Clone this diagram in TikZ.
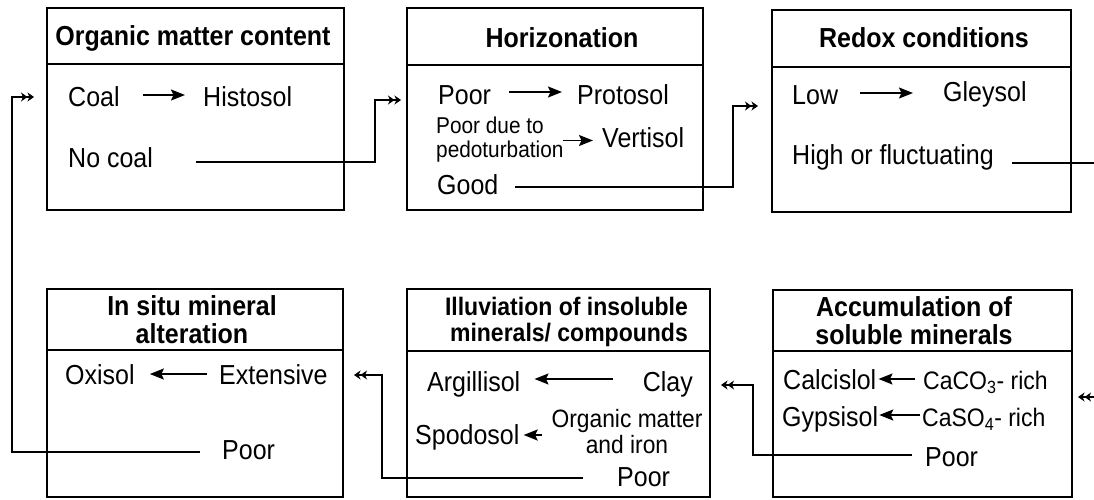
\documentclass[tikz,border=0pt]{standalone}
\usepackage{fontspec}
\usepackage{graphicx}
\setmainfont{Liberation Sans}
\usetikzlibrary{arrows.meta}
\newsavebox\tallbox
\begin{document}
\begin{tikzpicture}[x=1pt,y=-1pt,
  box/.style={draw, line width=2pt, inner sep=0pt},
  divider/.style={line width=1.8pt},
  tall/.style={execute at begin node={\begin{lrbox}{\tallbox}},
               execute at end node={\end{lrbox}\scalebox{1}[1.1]{\usebox{\tallbox}}}},
  txt/.style={tall, inner sep=0pt, anchor=west, font=\fontsize{25}{29}\selectfont, text height=19.7pt, text depth=0pt},
  multi/.style={tall, inner sep=0pt},
  hd/.style={tall, inner sep=0pt, font=\fontsize{25}{28}\selectfont\bfseries, text height=19.7pt, text depth=0pt},
  arr/.style={line width=1.8pt, -{Stealth[length=14pt,width=11pt,inset=2.5pt]}},
  conn/.style={line width=1.8pt, -{Stealth[length=6.5pt,width=9pt,inset=2pt]Stealth[length=6.5pt,width=9pt,inset=2pt]}},
  plain/.style={line width=1.8pt}]
\useasboundingbox[fill=white] (0,0) rectangle (1094,499);

% boxes
\node[box, minimum width=297pt, minimum height=202pt] (b1) at (195.5,109) {};
\node[box, minimum width=296pt, minimum height=202pt] (b2) at (555,109) {};
\node[box, minimum width=299pt, minimum height=202pt] (b3) at (921.5,111) {};
\node[box, minimum width=296pt, minimum height=208pt] (b4) at (195,393) {};
\node[box, minimum width=303pt, minimum height=208pt] (b5) at (558.5,393) {};
\node[box, minimum width=299pt, minimum height=207pt] (b6) at (922.5,393.5) {};

\draw[divider] (b1.west |- 0,64) -- (b1.east |- 0,64);
\draw[divider] (b2.west |- 0,65) -- (b2.east |- 0,65);
\draw[divider] (b3.west |- 0,67) -- (b3.east |- 0,67);
\draw[divider] (b4.west |- 0,350) -- (b4.east |- 0,350);
\draw[divider] (b5.west |- 0,351) -- (b5.east |- 0,351);
\draw[divider] (b6.west |- 0,351) -- (b6.east |- 0,351);

% headers
\node[hd] (h1) at (193,36) {Organic matter content};
\node[hd] (h2) at (562,38) {Horizonation};
\node[hd] (h3) at (924,38) {Redox conditions};
\node[multi, font=\fontsize{25}{25.5}\selectfont\bfseries] (h4) at (192,324)
  {\begin{tabular}{@{}c@{}}In situ mineral\\alteration\end{tabular}};
\node[multi, font=\fontsize{23}{23}\selectfont\bfseries, anchor=east] (h5) at (688,323.5)
  {\begin{tabular}{@{}r@{}}Illuviation of insoluble\\minerals/ compounds\end{tabular}};
\node[multi, font=\fontsize{25}{25}\selectfont\bfseries] (h6) at (914,324.5)
  {\begin{tabular}{@{}c@{}}Accumulation of\\soluble minerals\end{tabular}};

% box 1
\node[txt] (coal) at (68,97) {Coal};
\node[txt] (histo) at (203,97) {Histosol};
\node[txt] (nocoal) at (68,158) {No coal};
\draw[arr] ([xshift=23pt,yshift=2pt]coal.east) -- ([xshift=-18pt,yshift=2pt]coal.east -| histo.west);

% box 2
\node[txt] (poor2) at (438,95) {Poor};
\node[txt] (proto) at (577,95) {Protosol};
\node[multi, font=\fontsize{20.8}{21}\selectfont, anchor=west] (pdt) at (436,140.5)
  {\begin{tabular}{@{}l@{}}Poor due to\\pedoturbation\end{tabular}};
\node[txt] (verti) at (602,138) {Vertisol};
\node[txt] (good) at (437,185) {Good};
\draw[arr] ([xshift=18pt,yshift=3pt]poor2.east) -- ([xshift=-15pt,yshift=3pt]poor2.east -| proto.west);
\draw[arr] ([xshift=-1pt]pdt.east) -- ([xshift=-9pt]pdt.east -| verti.west);

% box 3
\node[txt] (low) at (792,95) {Low};
\node[txt] (gley) at (943,92) {Gleysol};
\node[txt] (high) at (792,155) {High or fluctuating};
\draw[arr] ([xshift=22pt,yshift=2pt]low.east) -- ([xshift=-30pt,yshift=2pt]low.east -| gley.west);

% box 4
\node[txt] (oxi) at (65,375) {Oxisol};
\node[txt] (ext) at (219,375) {Extensive};
\node[txt] (poor4) at (222,450) {Poor};
\draw[arr] ([xshift=-12pt,yshift=1pt]ext.west) -- ([xshift=15pt,yshift=1pt]ext.west -| oxi.east);

% box 5
\node[txt] (argi) at (427,382) {Argillisol};
\node[txt, anchor=east] (clay) at (693,382) {Clay};
\node[txt] (spodo) at (415,435) {Spodosol};
\node[multi, font=\fontsize{22.8}{23}\selectfont] (om) at (627,435)
  {\begin{tabular}{@{}c@{}}Organic matter\\and iron\end{tabular}};
\node[txt] (poor5) at (617,477) {Poor};
\draw[arr] ([xshift=-30pt,yshift=3pt]clay.west) -- ([xshift=14pt,yshift=3pt]clay.west -| argi.east);
\draw[arr] ([xshift=-9pt]om.west) -- ([xshift=4pt]om.west -| spodo.east);

% box 6
\node[txt] (calc) at (783,380) {Calcislol};
\node[txt, font=\fontsize{23}{27}\selectfont] (caco) at (923,380) {CaCO\textsubscript{3}- rich};
\node[txt] (gyps) at (782,417) {Gypsisol};
\node[txt, font=\fontsize{23}{27}\selectfont] (caso) at (922,417) {CaSO\textsubscript{4}- rich};
\node[txt] (poor6) at (925,457) {Poor};
\draw[arr] ([xshift=-8pt,yshift=1pt]caco.west) -- ([xshift=2pt,yshift=1pt]caco.west -| calc.east);
\draw[arr] ([xshift=-2pt,yshift=2pt]caso.west) -- ([xshift=1pt,yshift=2pt]caso.west -| gyps.east);

% connectors
\coordinate (s1) at (196,162); \coordinate (k1) at (375,100);
\draw[conn, shorten >=5pt] (s1) -| (k1) -- (b2.west |- k1);
\coordinate (s2) at (515,187); \coordinate (k2) at (733,106);
\draw[conn, shorten >=13pt] (s2) -| (k2) -- (b3.west |- k2);
\coordinate (s3) at (1012,163); \coordinate (e3) at (1094,163);
\draw[plain] (s3) -- (e3);
\coordinate (s4) at (1094,397);
\draw[conn, shorten >=5pt] (s4) -- (b6.east |- s4);
\coordinate (s5) at (912,455); \coordinate (k5) at (753,385);
\draw[conn, shorten >=10pt] (s5) -| (k5) -- (b5.east |- k5);
\coordinate (s6) at (583,478); \coordinate (k6) at (382,375);
\draw[conn, shorten >=10pt] (s6) -| (k6) -- (b4.east |- k6);
\coordinate (s7) at (200,452); \coordinate (k7) at (12,97);
\draw[conn, shorten >=12pt] (s7) -| (k7) -- (b1.west |- k7);
\end{tikzpicture}
\end{document}
